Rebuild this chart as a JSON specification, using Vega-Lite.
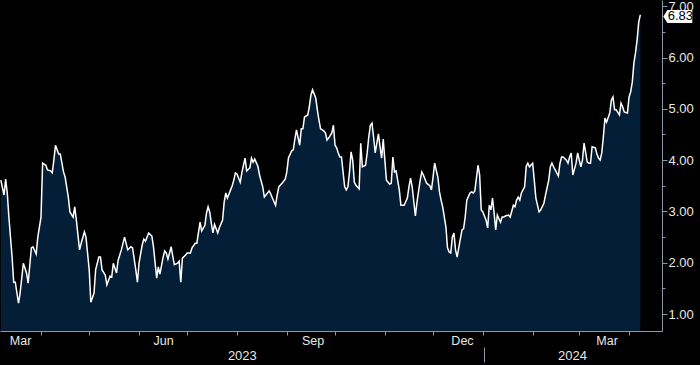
{
  "$schema": "https://vega.github.io/schema/vega-lite/v6.json",
  "width": 662,
  "height": 331,
  "autosize": {"type": "none"},
  "padding": {"left": 0, "top": 0, "right": 38, "bottom": 34},
  "background": "#000000",
  "config": {
    "view": {"stroke": null},
    "axis": {"labelFont": "Liberation Sans", "titleFont": "Liberation Sans", "grid": false, "title": null}
  },
  "data": {
    "values": [
      {"date":"2023-03-07","value":3.61},{"date":"2023-03-09","value":3.32},{"date":"2023-03-10","value":3.63},{"date":"2023-03-11","value":3.36},
      {"date":"2023-03-12","value":2.89},{"date":"2023-03-14","value":2.11},{"date":"2023-03-15","value":1.62},{"date":"2023-03-16","value":1.62},
      {"date":"2023-03-18","value":1.21},{"date":"2023-03-19","value":1.41},{"date":"2023-03-21","value":1.99},{"date":"2023-03-23","value":1.80},
      {"date":"2023-03-24","value":1.60},{"date":"2023-03-26","value":2.29},{"date":"2023-03-27","value":2.31},{"date":"2023-03-29","value":2.17},
      {"date":"2023-03-30","value":2.50},{"date":"2023-04-01","value":2.89},{"date":"2023-04-02","value":3.94},{"date":"2023-04-04","value":3.90},
      {"date":"2023-04-05","value":3.81},{"date":"2023-04-07","value":3.79},{"date":"2023-04-08","value":3.75},{"date":"2023-04-09","value":4.00},
      {"date":"2023-04-10","value":4.29},{"date":"2023-04-12","value":4.12},{"date":"2023-04-13","value":4.12},{"date":"2023-04-15","value":3.77},
      {"date":"2023-04-16","value":3.67},{"date":"2023-04-18","value":3.28},{"date":"2023-04-19","value":2.99},{"date":"2023-04-21","value":2.89},
      {"date":"2023-04-22","value":3.09},{"date":"2023-04-23","value":2.83},{"date":"2023-04-25","value":2.25},{"date":"2023-04-26","value":2.38},
      {"date":"2023-04-28","value":2.60},{"date":"2023-04-29","value":2.50},{"date":"2023-05-01","value":1.86},{"date":"2023-05-02","value":1.23},
      {"date":"2023-05-04","value":1.41},{"date":"2023-05-05","value":1.86},{"date":"2023-05-07","value":2.11},{"date":"2023-05-08","value":2.11},
      {"date":"2023-05-09","value":1.86},{"date":"2023-05-11","value":1.76},{"date":"2023-05-12","value":1.57},{"date":"2023-05-14","value":1.74},
      {"date":"2023-05-15","value":1.72},{"date":"2023-05-16","value":1.99},{"date":"2023-05-18","value":1.80},{"date":"2023-05-19","value":2.05},
      {"date":"2023-05-21","value":2.25},{"date":"2023-05-23","value":2.50},{"date":"2023-05-25","value":2.25},{"date":"2023-05-27","value":2.31},
      {"date":"2023-05-28","value":2.29},{"date":"2023-05-30","value":1.86},{"date":"2023-05-31","value":1.62},{"date":"2023-06-01","value":1.99},
      {"date":"2023-06-03","value":2.35},{"date":"2023-06-04","value":2.46},{"date":"2023-06-05","value":2.42},{"date":"2023-06-07","value":2.58},
      {"date":"2023-06-09","value":2.52},{"date":"2023-06-10","value":2.31},{"date":"2023-06-12","value":1.70},{"date":"2023-06-13","value":1.92},
      {"date":"2023-06-14","value":1.78},{"date":"2023-06-16","value":2.11},{"date":"2023-06-17","value":2.23},{"date":"2023-06-18","value":2.19},
      {"date":"2023-06-19","value":2.07},{"date":"2023-06-21","value":2.31},{"date":"2023-06-22","value":2.13},{"date":"2023-06-23","value":1.96},
      {"date":"2023-06-25","value":1.99},{"date":"2023-06-26","value":2.03},{"date":"2023-06-27","value":1.62},{"date":"2023-06-28","value":2.09},
      {"date":"2023-06-30","value":2.15},{"date":"2023-07-01","value":2.19},{"date":"2023-07-03","value":2.19},{"date":"2023-07-04","value":2.29},
      {"date":"2023-07-06","value":2.38},{"date":"2023-07-07","value":2.38},{"date":"2023-07-09","value":2.79},{"date":"2023-07-10","value":2.62},
      {"date":"2023-07-12","value":2.73},{"date":"2023-07-13","value":2.97},{"date":"2023-07-14","value":3.09},{"date":"2023-07-15","value":2.99},
      {"date":"2023-07-16","value":2.77},{"date":"2023-07-17","value":2.58},{"date":"2023-07-18","value":2.75},{"date":"2023-07-20","value":2.58},
      {"date":"2023-07-21","value":2.68},{"date":"2023-07-23","value":2.83},{"date":"2023-07-24","value":3.18},{"date":"2023-07-25","value":3.36},
      {"date":"2023-07-26","value":3.26},{"date":"2023-07-28","value":3.42},{"date":"2023-07-29","value":3.50},{"date":"2023-07-30","value":3.61},
      {"date":"2023-07-31","value":3.75},{"date":"2023-08-01","value":3.73},{"date":"2023-08-03","value":3.57},{"date":"2023-08-04","value":3.75},
      {"date":"2023-08-05","value":3.90},{"date":"2023-08-06","value":4.04},{"date":"2023-08-07","value":3.79},{"date":"2023-08-09","value":3.85},
      {"date":"2023-08-10","value":4.04},{"date":"2023-08-11","value":3.96},{"date":"2023-08-12","value":4.02},{"date":"2023-08-14","value":3.88},
      {"date":"2023-08-15","value":3.71},{"date":"2023-08-17","value":3.48},{"date":"2023-08-18","value":3.28},{"date":"2023-08-19","value":3.32},
      {"date":"2023-08-21","value":3.40},{"date":"2023-08-22","value":3.34},{"date":"2023-08-23","value":3.26},{"date":"2023-08-25","value":3.12},
      {"date":"2023-08-26","value":3.32},{"date":"2023-08-27","value":3.48},{"date":"2023-08-29","value":3.55},{"date":"2023-08-31","value":3.63},
      {"date":"2023-09-01","value":3.77},{"date":"2023-09-02","value":4.04},{"date":"2023-09-04","value":4.18},{"date":"2023-09-05","value":4.20},
      {"date":"2023-09-06","value":4.41},{"date":"2023-09-07","value":4.59},{"date":"2023-09-09","value":4.29},{"date":"2023-09-10","value":4.61},
      {"date":"2023-09-11","value":4.61},{"date":"2023-09-12","value":4.84},{"date":"2023-09-14","value":4.88},{"date":"2023-09-15","value":5.04},
      {"date":"2023-09-16","value":5.27},{"date":"2023-09-17","value":5.37},{"date":"2023-09-19","value":5.21},{"date":"2023-09-20","value":4.98},
      {"date":"2023-09-21","value":4.78},{"date":"2023-09-22","value":4.61},{"date":"2023-09-24","value":4.57},{"date":"2023-09-25","value":4.53},
      {"date":"2023-09-26","value":4.39},{"date":"2023-09-27","value":4.43},{"date":"2023-09-29","value":4.53},{"date":"2023-09-30","value":4.68},
      {"date":"2023-10-01","value":4.29},{"date":"2023-10-02","value":4.24},{"date":"2023-10-03","value":4.14},{"date":"2023-10-04","value":4.06},
      {"date":"2023-10-05","value":4.06},{"date":"2023-10-07","value":3.48},{"date":"2023-10-08","value":3.42},{"date":"2023-10-09","value":3.48},
      {"date":"2023-10-10","value":3.77},{"date":"2023-10-11","value":4.16},{"date":"2023-10-12","value":4.00},{"date":"2023-10-13","value":3.57},
      {"date":"2023-10-14","value":3.51},{"date":"2023-10-16","value":3.44},{"date":"2023-10-17","value":4.33},{"date":"2023-10-18","value":3.87},
      {"date":"2023-10-20","value":3.90},{"date":"2023-10-21","value":4.14},{"date":"2023-10-22","value":4.45},{"date":"2023-10-23","value":4.68},
      {"date":"2023-10-24","value":4.72},{"date":"2023-10-25","value":4.45},{"date":"2023-10-26","value":4.14},{"date":"2023-10-28","value":4.51},
      {"date":"2023-10-29","value":4.26},{"date":"2023-10-30","value":4.04},{"date":"2023-10-31","value":4.41},{"date":"2023-11-01","value":4.00},
      {"date":"2023-11-02","value":3.61},{"date":"2023-11-04","value":3.53},{"date":"2023-11-05","value":3.55},{"date":"2023-11-06","value":4.06},
      {"date":"2023-11-07","value":3.77},{"date":"2023-11-08","value":3.79},{"date":"2023-11-10","value":3.42},{"date":"2023-11-11","value":3.12},
      {"date":"2023-11-13","value":3.12},{"date":"2023-11-15","value":3.26},{"date":"2023-11-16","value":3.48},{"date":"2023-11-17","value":3.65},
      {"date":"2023-11-18","value":3.48},{"date":"2023-11-20","value":2.91},{"date":"2023-11-21","value":3.18},{"date":"2023-11-23","value":3.61},
      {"date":"2023-11-24","value":3.77},{"date":"2023-11-25","value":3.71},{"date":"2023-11-27","value":3.55},{"date":"2023-11-29","value":3.50},
      {"date":"2023-11-30","value":3.42},{"date":"2023-12-01","value":3.67},{"date":"2023-12-02","value":3.94},{"date":"2023-12-04","value":3.67},
      {"date":"2023-12-05","value":3.38},{"date":"2023-12-06","value":3.22},{"date":"2023-12-07","value":3.09},{"date":"2023-12-09","value":2.70},
      {"date":"2023-12-10","value":2.29},{"date":"2023-12-11","value":2.21},{"date":"2023-12-12","value":2.19},{"date":"2023-12-13","value":2.50},
      {"date":"2023-12-14","value":2.58},{"date":"2023-12-15","value":2.25},{"date":"2023-12-16","value":2.11},{"date":"2023-12-17","value":2.29},
      {"date":"2023-12-19","value":2.64},{"date":"2023-12-20","value":2.66},{"date":"2023-12-21","value":2.89},{"date":"2023-12-22","value":3.22},
      {"date":"2023-12-24","value":3.36},{"date":"2023-12-25","value":3.38},{"date":"2023-12-26","value":3.36},{"date":"2023-12-27","value":3.40},
      {"date":"2023-12-29","value":3.90},{"date":"2023-12-30","value":3.71},{"date":"2023-12-31","value":3.03},{"date":"2024-01-01","value":2.99},
      {"date":"2024-01-03","value":2.83},{"date":"2024-01-04","value":2.68},{"date":"2024-01-05","value":3.12},{"date":"2024-01-06","value":3.03},
      {"date":"2024-01-07","value":3.26},{"date":"2024-01-08","value":2.97},{"date":"2024-01-09","value":2.64},{"date":"2024-01-10","value":2.93},
      {"date":"2024-01-12","value":2.79},{"date":"2024-01-13","value":2.89},{"date":"2024-01-14","value":2.89},{"date":"2024-01-15","value":2.91},
      {"date":"2024-01-17","value":2.93},{"date":"2024-01-18","value":2.89},{"date":"2024-01-20","value":3.12},{"date":"2024-01-21","value":3.09},
      {"date":"2024-01-22","value":3.22},{"date":"2024-01-23","value":3.28},{"date":"2024-01-24","value":3.22},{"date":"2024-01-25","value":3.36},
      {"date":"2024-01-27","value":3.48},{"date":"2024-01-28","value":3.88},{"date":"2024-01-29","value":3.94},{"date":"2024-01-30","value":3.87},
      {"date":"2024-02-01","value":3.94},{"date":"2024-02-02","value":3.61},{"date":"2024-02-03","value":3.26},{"date":"2024-02-05","value":2.99},
      {"date":"2024-02-06","value":3.03},{"date":"2024-02-08","value":3.16},{"date":"2024-02-09","value":3.32},{"date":"2024-02-11","value":3.61},
      {"date":"2024-02-12","value":3.87},{"date":"2024-02-13","value":3.94},{"date":"2024-02-14","value":3.87},{"date":"2024-02-15","value":3.81},
      {"date":"2024-02-17","value":3.69},{"date":"2024-02-18","value":3.94},{"date":"2024-02-19","value":4.06},{"date":"2024-02-20","value":4.06},
      {"date":"2024-02-22","value":4.00},{"date":"2024-02-23","value":3.94},{"date":"2024-02-24","value":4.06},{"date":"2024-02-25","value":4.14},
      {"date":"2024-02-26","value":3.71},{"date":"2024-02-28","value":3.94},{"date":"2024-02-29","value":4.14},{"date":"2024-03-01","value":4.00},
      {"date":"2024-03-02","value":3.87},{"date":"2024-03-03","value":4.00},{"date":"2024-03-04","value":4.33},{"date":"2024-03-06","value":3.96},
      {"date":"2024-03-07","value":3.94},{"date":"2024-03-08","value":3.94},{"date":"2024-03-09","value":4.26},{"date":"2024-03-11","value":4.24},
      {"date":"2024-03-12","value":4.12},{"date":"2024-03-13","value":4.04},{"date":"2024-03-14","value":4.00},{"date":"2024-03-15","value":4.14},
      {"date":"2024-03-16","value":4.45},{"date":"2024-03-17","value":4.82},{"date":"2024-03-18","value":4.74},{"date":"2024-03-20","value":4.92},
      {"date":"2024-03-21","value":5.17},{"date":"2024-03-22","value":5.23},{"date":"2024-03-23","value":4.98},{"date":"2024-03-24","value":4.98},
      {"date":"2024-03-26","value":4.88},{"date":"2024-03-27","value":5.11},{"date":"2024-03-28","value":5.04},{"date":"2024-03-29","value":4.94},
      {"date":"2024-03-31","value":4.92},{"date":"2024-04-01","value":5.23},{"date":"2024-04-02","value":5.33},{"date":"2024-04-03","value":5.52},
      {"date":"2024-04-04","value":5.89},{"date":"2024-04-05","value":6.09},{"date":"2024-04-06","value":6.34},{"date":"2024-04-07","value":6.69},
      {"date":"2024-04-08","value":6.83}
    ]
  },
  "resolve": {"axis": {"x": "independent", "y": "independent"}},
  "layer": [
    {
      "mark": {"type": "area", "color": "#051e38", "opacity": 1, "clip": true},
      "encoding": {
        "x": {
          "field": "date", "type": "temporal",
          "scale": {"domain": [{"year": 2023, "month": 3, "date": 6, "hours": 11, "minutes": 30}, {"year": 2024, "month": 4, "date": 21, "hours": 12}]},
          "axis": {
            "orient": "bottom",
            "values": [
              {"year": 2023, "month": 4, "date": 1}, {"year": 2023, "month": 5, "date": 1},
              {"year": 2023, "month": 6, "date": 1}, {"year": 2023, "month": 7, "date": 1},
              {"year": 2023, "month": 8, "date": 1}, {"year": 2023, "month": 9, "date": 1},
              {"year": 2023, "month": 10, "date": 1}, {"year": 2023, "month": 11, "date": 1},
              {"year": 2023, "month": 12, "date": 1}, {"year": 2024, "month": 1, "date": 1},
              {"year": 2024, "month": 2, "date": 1}, {"year": 2024, "month": 3, "date": 1},
              {"year": 2024, "month": 4, "date": 1}
            ],
            "labels": false, "ticks": true, "tickSize": 4, "tickColor": "#8c99a6",
            "domain": true, "domainColor": "#8c99a6"
          }
        },
        "y": {
          "field": "value", "type": "quantitative",
          "scale": {"domain": [0.669, 7.121], "nice": false, "zero": false},
          "axis": {
            "orient": "right", "values": [1, 2, 3, 4, 5, 6, 7], "format": ".2f",
            "tickSize": 5, "tickColor": "#8c99a6", "domain": true, "domainColor": "#8c99a6",
            "labelPadding": 1, "labelColor": "#e8e8e8", "labelFontSize": 13, "labelFlush": false, "labelOverlap": false, "labelBound": false
          }
        }
      }
    },
    {
      "mark": {"type": "line", "color": "#ffffff", "strokeWidth": 1.5},
      "encoding": {
        "x": {
          "field": "date", "type": "temporal",
          "scale": {"domain": [{"year": 2023, "month": 3, "date": 6, "hours": 11, "minutes": 30}, {"year": 2024, "month": 4, "date": 21, "hours": 12}]},
          "axis": {
            "orient": "bottom",
            "values": [
              {"year": 2023, "month": 3, "date": 19}, {"year": 2023, "month": 6, "date": 16},
              {"year": 2023, "month": 9, "date": 17}, {"year": 2023, "month": 12, "date": 19},
              {"year": 2024, "month": 3, "date": 18}
            ],
            "format": "%b",
            "ticks": false, "domain": false, "labelPadding": 3,
            "labelColor": "#e8e8e8", "labelFontSize": 12.5, "labelFlush": false, "labelOverlap": false
          }
        },
        "y": {
          "field": "value", "type": "quantitative",
          "scale": {"domain": [0.669, 7.121], "nice": false, "zero": false},
          "axis": {
            "orient": "right", "values": [1.5, 2.5, 3.5, 4.5, 5.5, 6.5],
            "labels": false, "tickSize": 3, "tickColor": "#8c99a6", "domain": false
          }
        }
      }
    },
    {
      "transform": [
        {"window": [{"op": "row_number", "as": "rn"}], "sort": [{"field": "date", "order": "descending"}]},
        {"filter": "datum.rn == 1"}
      ],
      "mark": {"type": "point", "shape": "M-1,0L-0.72,-0.45L1,-0.45L1,0.45L-0.72,0.45Z", "size": 841, "filled": true, "color": "#ffffff", "opacity": 1, "strokeWidth": 0, "xOffset": 37.5, "yOffset": 1.5},
      "encoding": {
        "x": {
          "field": "date", "type": "temporal",
          "scale": {"domain": [{"year": 2023, "month": 3, "date": 6, "hours": 11, "minutes": 30}, {"year": 2024, "month": 4, "date": 21, "hours": 12}]},
          "axis": {
            "orient": "bottom", "offset": 16,
            "values": [
              {"year": 2023, "month": 8, "date": 4},
              {"year": 2024, "month": 2, "date": 25, "hours": 12}
            ],
            "format": "%Y",
            "ticks": false, "domain": false, "labelPadding": 2,
            "labelColor": "#e8e8e8", "labelFontSize": 13, "labelFlush": false, "labelOverlap": false
          }
        },
        "y": {
          "field": "value", "type": "quantitative",
          "scale": {"domain": [0.669, 7.121], "nice": false, "zero": false},
          "axis": null
        }
      }
    },
    {
      "transform": [
        {"window": [{"op": "row_number", "as": "rn"}], "sort": [{"field": "date", "order": "descending"}]},
        {"filter": "datum.rn == 1"}
      ],
      "mark": {"type": "text", "color": "#000000", "font": "Liberation Sans", "fontSize": 13, "align": "center", "baseline": "middle", "xOffset": 40, "yOffset": 1.5},
      "encoding": {
        "x": {
          "field": "date", "type": "temporal",
          "scale": {"domain": [{"year": 2023, "month": 3, "date": 6, "hours": 11, "minutes": 30}, {"year": 2024, "month": 4, "date": 21, "hours": 12}]},
          "axis": {
            "orient": "bottom", "offset": 16,
            "values": [{"year": 2024, "month": 1, "date": 1, "hours": 18}],
            "labels": false, "ticks": true, "tickSize": 15, "tickColor": "#8c99a6", "domain": false
          }
        },
        "y": {
          "field": "value", "type": "quantitative",
          "scale": {"domain": [0.669, 7.121], "nice": false, "zero": false},
          "axis": null
        },
        "text": {"field": "value", "type": "quantitative", "format": ".2f"}
      }
    }
  ]
}
